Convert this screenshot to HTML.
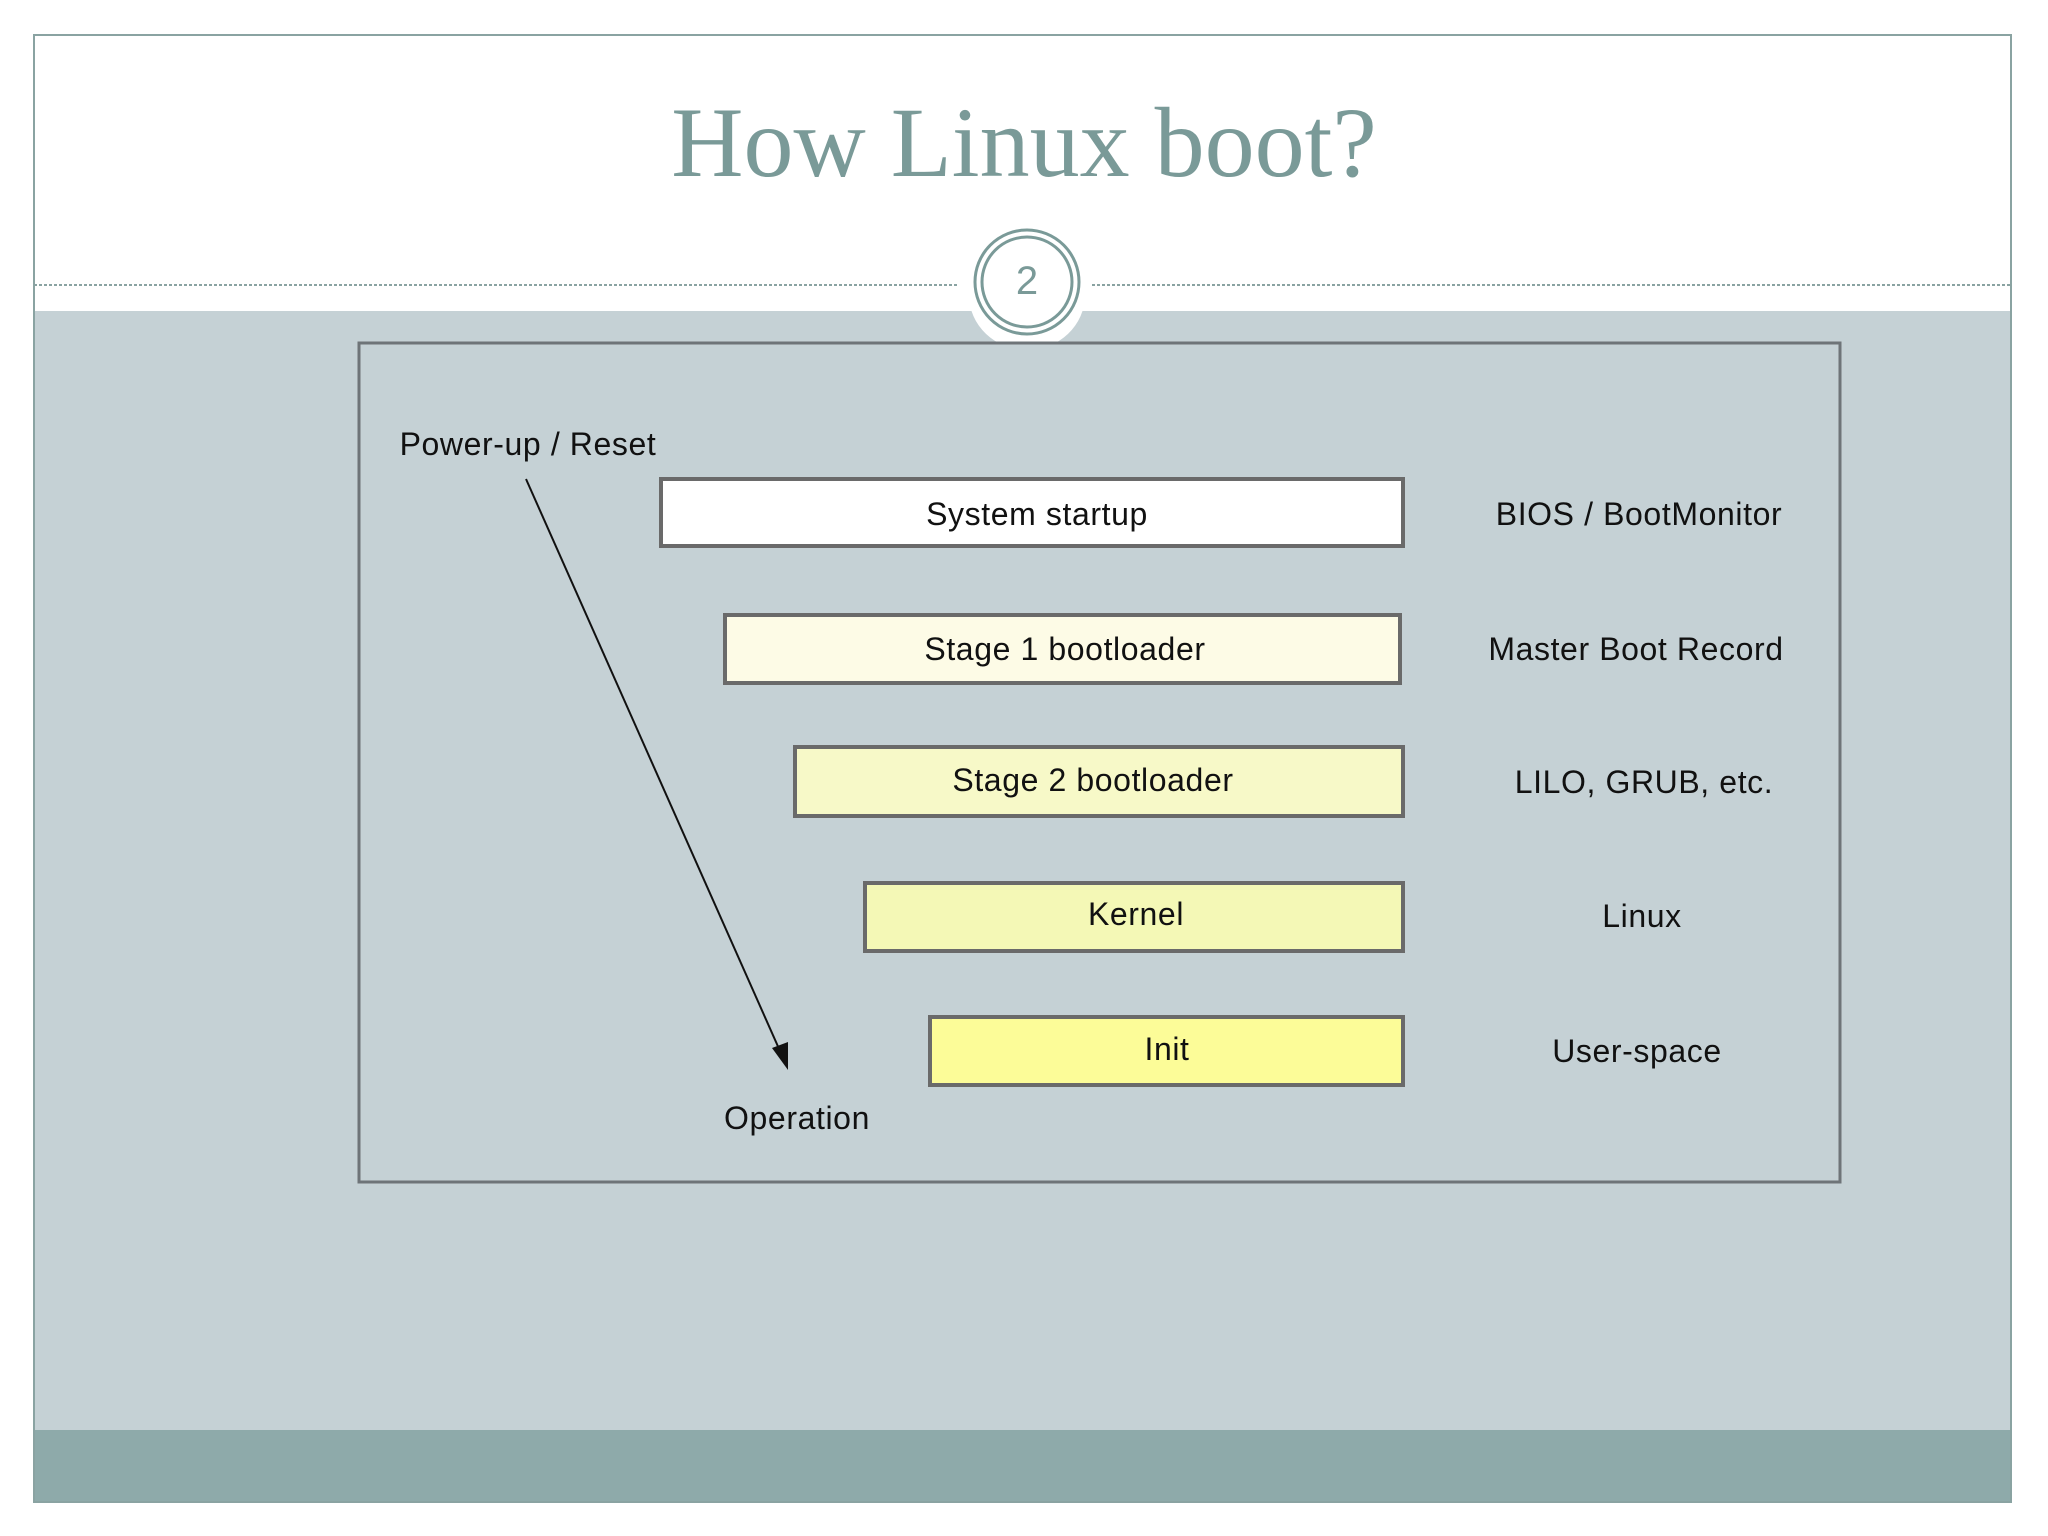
<!DOCTYPE html>
<html><head><meta charset="utf-8"><style>
html,body{margin:0;padding:0;width:2048px;height:1536px;overflow:hidden;background:#fff}
</style></head><body>
<svg width="2048" height="1536" viewBox="0 0 2048 1536" xmlns="http://www.w3.org/2000/svg">
<rect x="0" y="0" width="2048" height="1536" fill="#fff"/>
<rect x="34" y="311" width="1977" height="1119" fill="#c5d1d5"/>
<rect x="34" y="1430" width="1977" height="72" fill="#8eaaaa"/>
<rect x="34" y="35" width="1977" height="1467" fill="none" stroke="#8aa3a2" stroke-width="2"/>
<text x="1024" y="176" text-anchor="middle" font-family="Liberation Serif, serif" font-size="100" fill="#7a9a98">How Linux boot?</text>
<line x1="34" y1="285" x2="958" y2="285" stroke="#8aa3a2" stroke-width="2" stroke-dasharray="3,2"/>
<line x1="1092" y1="285" x2="2011" y2="285" stroke="#8aa3a2" stroke-width="2" stroke-dasharray="3,2"/>
<ellipse cx="1027" cy="295" rx="58" ry="55" fill="#fff"/>
<circle cx="1027" cy="282" r="52" fill="#fff" stroke="#7a9a98" stroke-width="3"/>
<circle cx="1027" cy="282" r="45" fill="none" stroke="#7a9a98" stroke-width="3"/>
<text x="1027" y="294" text-anchor="middle" font-family="Liberation Sans, sans-serif" font-size="40" fill="#7a9a98">2</text>
<rect x="359" y="343" width="1481" height="839" fill="#c5d1d5" stroke="#6e7478" stroke-width="3"/>
<g stroke="#6a6a6a" stroke-width="4">
<rect x="661" y="479" width="742" height="67" fill="#ffffff"/>
<rect x="725" y="615" width="675" height="68" fill="#fdfbe6"/>
<rect x="795" y="747" width="608" height="69" fill="#f7f9c8"/>
<rect x="865" y="883" width="538" height="68" fill="#f4f8b6"/>
<rect x="930" y="1017" width="473" height="68" fill="#fcfc98"/>
</g>
<g font-family="Liberation Sans, sans-serif" font-size="32" letter-spacing="0.6" fill="#111" text-anchor="middle">
<text x="1037" y="525">System startup</text>
<text x="1065" y="660">Stage 1 bootloader</text>
<text x="1093" y="791">Stage 2 bootloader</text>
<text x="1136" y="925">Kernel</text>
<text x="1167" y="1060">Init</text>
<text x="1639" y="525">BIOS / BootMonitor</text>
<text x="1636" y="660">Master Boot Record</text>
<text x="1644" y="793">LILO, GRUB, etc.</text>
<text x="1642" y="927">Linux</text>
<text x="1637" y="1062">User-space</text>
<text x="528" y="455">Power-up / Reset</text>
<text x="797" y="1129">Operation</text>
</g>
<line x1="526" y1="479" x2="784" y2="1060" stroke="#111" stroke-width="2"/>
<polygon points="788,1070 772,1048 788,1042" fill="#111"/>
</svg>
</body></html>
